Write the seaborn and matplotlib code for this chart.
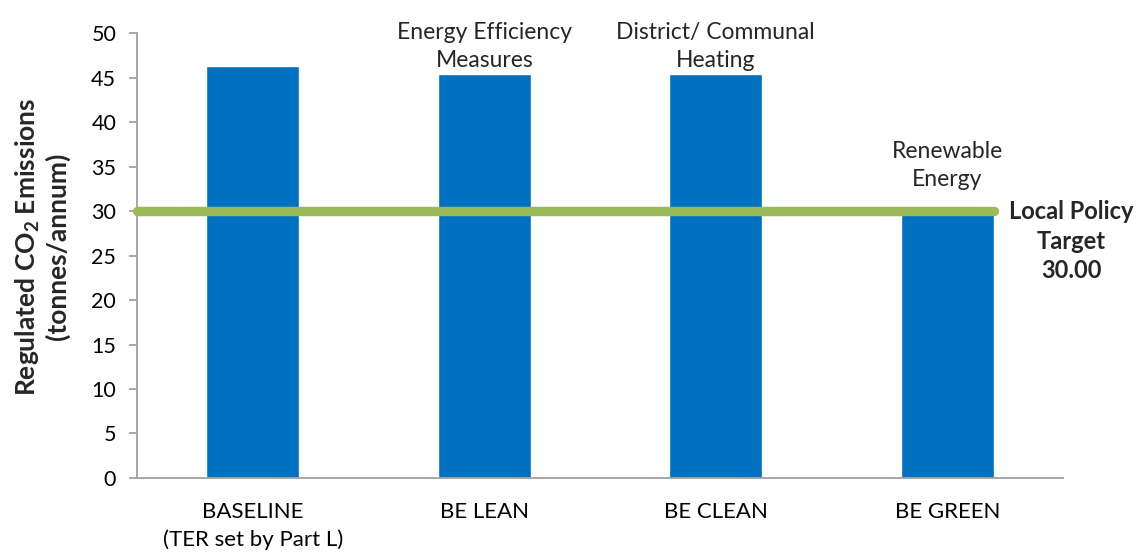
import numpy as np
import pandas as pd
import matplotlib
matplotlib.use("Agg")
import matplotlib.pyplot as plt
import seaborn as sns

# --- datos ---
etapas = ["BASELINE\n(TER set by Part L)", "BE LEAN", "BE CLEAN", "BE GREEN"]
emisiones = [46.3, 45.4, 45.4, 29.8]
notas = ["", "Energy Efficiency\nMeasures", "District/ Communal\nHeating", "Renewable\nEnergy"]
objetivo = 30.00

sns.set_theme(style="white")
plt.rcParams["font.family"] = ["Lato", "DejaVu Sans"]

df = pd.DataFrame({"etapa": etapas, "emisiones": emisiones})

fig = plt.figure(figsize=(11.39, 5.56), dpi=100)
ax = fig.add_axes([0.1203, 0.1403, 0.8130, 0.8003])

sns.barplot(data=df, x="etapa", y="emisiones", color="#0070C0", saturation=1,
            width=0.40, ax=ax, zorder=2)

# línea del objetivo local
ax.plot([-0.5, len(etapas) - 1 + 0.2], [objetivo, objetivo], color="#9BBB59",
        linewidth=6.8, solid_capstyle="round", zorder=3, clip_on=False)
ax.text(len(etapas) - 1 + 0.535, objetivo - 3.4, f"Local Policy\nTarget\n{objetivo:.2f}",
        ha="center", va="center", fontsize=17, fontweight="bold", linespacing=1.35)

# notas encima de las barras
for i, (v, n) in enumerate(zip(emisiones, notas)):
    if not n:
        continue
    base = max(v, objetivo + 2)
    ax.annotate(n, (i, base), xytext=(0, 2), textcoords="offset points",
                ha="center", va="bottom", fontsize=16.5, linespacing=1.45,
                annotation_clip=False)

ax.set_xlim(-0.5, len(etapas) - 0.5)
ax.set_ylim(0, 50)
ax.set_yticks(np.arange(0, 51, 5))
ax.set_xlabel("")
ax.set_ylabel("Regulated CO$_\\mathregular{2}$ Emissions\n(tonnes/annum)",
              fontsize=19, fontweight="bold", linespacing=1.15)
ax.yaxis.set_label_coords(-0.072, 0.52)
ax.tick_params(axis="y", labelsize=15.5, colors="black", pad=9)
ax.tick_params(axis="x", which="major", length=0, pad=17, labelsize=16, colors="black")
ax.set_xticks(np.arange(-0.5, len(etapas), 1), minor=True)
ax.tick_params(axis="x", which="minor", length=7, color="#A0A0A0", width=1.3, direction="out")
ax.tick_params(axis="y", length=6, color="#A0A0A0", width=1.3, direction="out", left=True)
for lbl in ax.get_xticklabels():
    lbl.set_linespacing(1.45)

sns.despine(ax=ax)
for s in ["left", "bottom"]:
    ax.spines[s].set_color("#A0A0A0")
    ax.spines[s].set_linewidth(1.3)

fig.savefig("out.png", dpi=100)
